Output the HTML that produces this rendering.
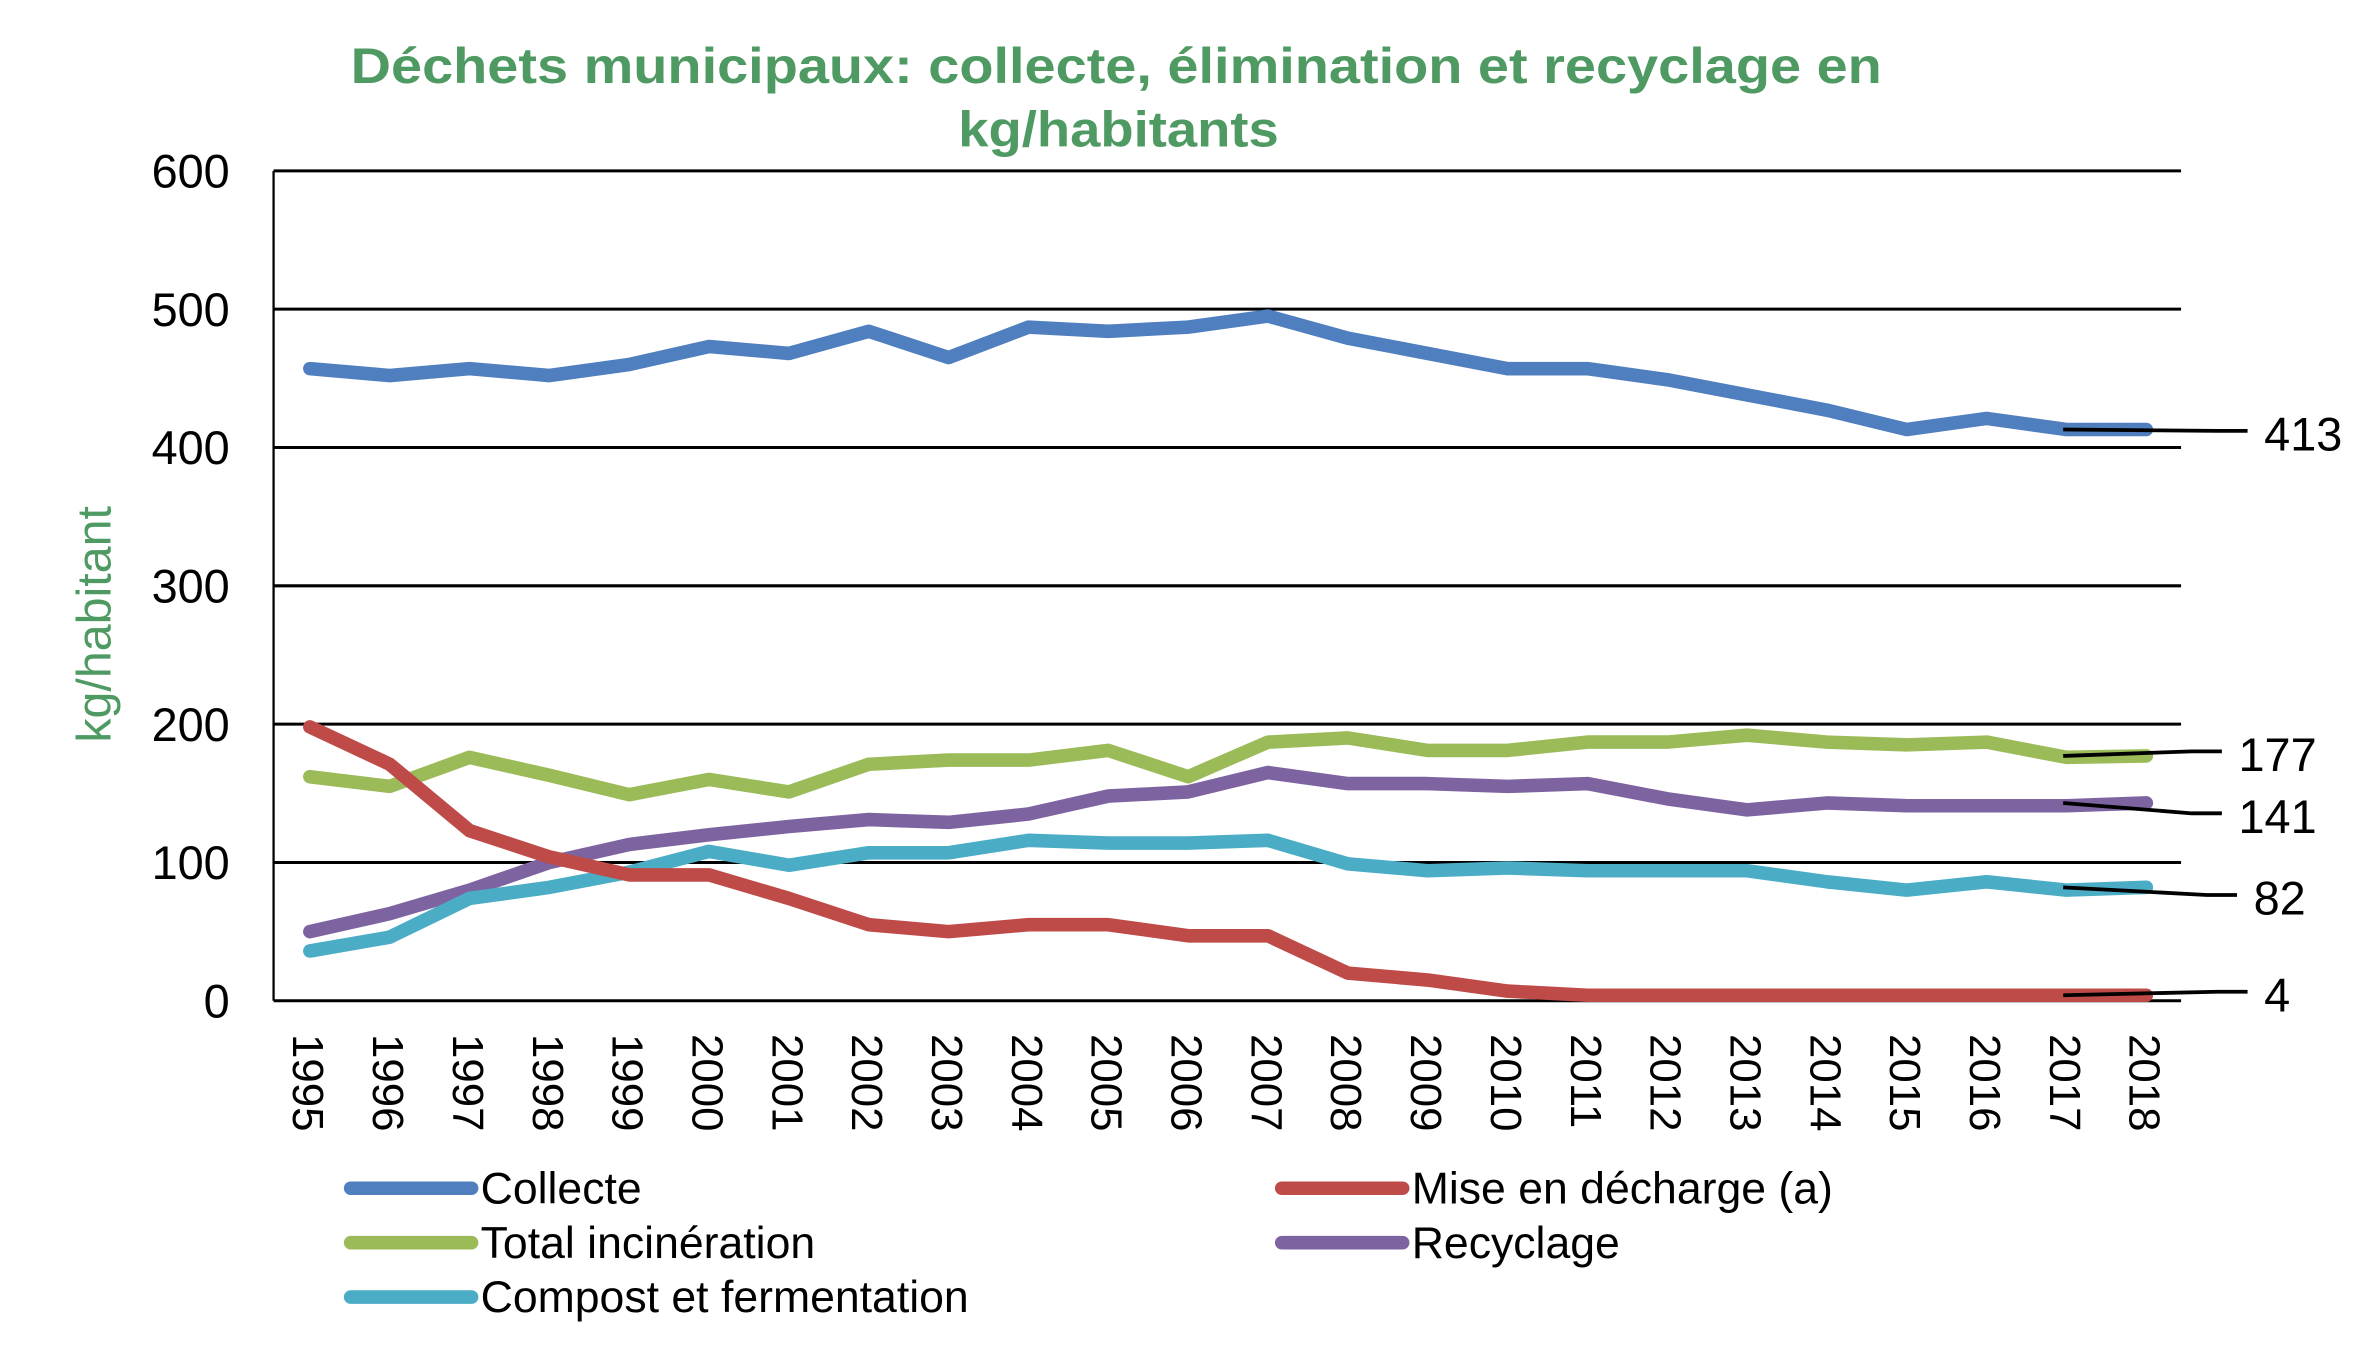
<!DOCTYPE html>
<html><head><meta charset="utf-8"><style>
html,body{margin:0;padding:0;background:#fff;}
svg{display:block;font-family:"Liberation Sans",Arial,sans-serif;}
</style></head><body>
<svg id="chart" width="2370" height="1350" viewBox="0 0 1568 893" preserveAspectRatio="none" xmlns="http://www.w3.org/2000/svg">
<text x="232" y="55" textLength="1013" lengthAdjust="spacingAndGlyphs" font-size="33" font-weight="bold" fill="#4f9a63">Déchets municipaux:  collecte, élimination  et recyclage  en</text>
<text x="634" y="97" textLength="212" lengthAdjust="spacingAndGlyphs" font-size="33" font-weight="bold" fill="#4f9a63">kg/habitants</text>
<text transform="translate(73,413) rotate(-90)" text-anchor="middle" font-size="32" fill="#4f9a63">kg/habitant</text>
<g id="grid"></g><g id="series"></g><g id="labels"></g><g id="legend"></g>
</svg>
<script>
const years = ["1995","1996","1997","1998","1999","2000","2001","2002","2003","2004","2005","2006","2007","2008","2009","2010","2011","2012","2013","2014","2015","2016","2017","2018"];
const yTicks = [0,100,200,300,400,500,600];
const collecte = [457,452,457,452,460,473,468,484,465,487,484,487,495,479,468,457,457,449,438,427,413,421,413,413];
const decharge = [198,171,123,104,91,91,74,55,50,55,55,47,47,20,15,7,4,4,4,4,4,4,4,4];
const incineration = [162,155,176,163,149,160,151,171,174,174,181,162,187,190,181,181,187,187,192,187,185,187,176,177];
const recyclage = [50,63,80,100,113,120,126,131,129,135,148,151,165,157,157,155,157,146,138,143,141,141,141,143];
const compost = [36,46,74,82,93,108,98,107,107,116,114,114,116,99,94,96,94,94,94,86,80,86,80,82];
const endLabels = ["413","177","141","82","4"];

const NS="http://www.w3.org/2000/svg";
function mk(tag,attrs,parent){const e=document.createElementNS(NS,tag);for(const k in attrs)e.setAttribute(k,attrs[k]);parent.appendChild(e);return e;}
const x0=205,x1=1420,y0=662,y1=113;
function xs(i){return x0+(x1-x0)*i/(years.length-1);}
function ys(v){return y0-(y0-y1)*v/600;}
const grid=document.getElementById('grid');
yTicks.forEach(t=>{
  const l=mk('line',{x1:181,x2:1443,y1:ys(t),y2:ys(t),stroke:'#000','stroke-width':2},grid);
  
  
  const tx=mk('text',{x:152,y:ys(t)+11,'text-anchor':'end','font-size':31,fill:'#000'},grid);
  tx.textContent=t;
  
  
});
const ax=mk('line',{x1:181,x2:181,y1:113,y2:662,stroke:'#000','stroke-width':1.5},grid);


years.forEach((y,i)=>{
  const t=mk('text',{transform:`translate(${xs(i)-11},684) rotate(90)`,'font-size':29,fill:'#000'},grid);
  t.textContent=y;
  
  
});
const series=[
 ['collecte',collecte,'#4f7fbf','Collecte'],
 ['mise-en-decharge',decharge,'#be4b48','Mise en décharge (a)'],
 ['total-incineration',incineration,'#9bbb59','Total incinération'],
 ['recyclage',recyclage,'#7e63a1','Recyclage'],
 ['compost',compost,'#4bacc6','Compost et fermentation']];
const sg=document.getElementById('series');
[2,3,4,1,0].forEach(k=>{
  const [n,d,c]=series[k];
  const p=mk('polyline',{points:d.map((v,i)=>xs(i)+','+ys(v)).join(' '),fill:'none',stroke:c,'stroke-width':9,'stroke-linejoin':'round','stroke-linecap':'round'},sg);
  
  
});
const lg=document.getElementById('labels');
const endSeries=[collecte,incineration,recyclage,compost,decharge];
const endX=[1487,1470,1470,1480,1487];
const lblY=[287,499,540,594,658];
endSeries.forEach((d,k)=>{
  const v=ys(d[d.length-1]);
  const l=mk('polyline',{points:`1365,${v} ${endX[k]-20},${lblY[k]-2} ${endX[k]},${lblY[k]-2}`,fill:'none',stroke:'#000','stroke-width':2.5},lg);
  
  
  const t=mk('text',{x:endX[k]+11,y:lblY[k]+11,'font-size':31,fill:'#000'},lg);
  t.textContent=endLabels[k];
  
  
});
const leg=document.getElementById('legend');
const pos=[[232,786],[848,786],[232,822],[848,822],[232,858]];
series.forEach((s,k)=>{
  const [px,py]=pos[k];
  const g=mk('g',{},leg);
  
  
  mk('line',{x1:px,x2:px+80,y1:py,y2:py,stroke:s[2],'stroke-width':9,'stroke-linecap':'round'},g);
  const t=mk('text',{x:px+86,y:py+10,'font-size':29.5,fill:'#000'},g);
  t.textContent=s[3];
});
</script>
</body></html>
